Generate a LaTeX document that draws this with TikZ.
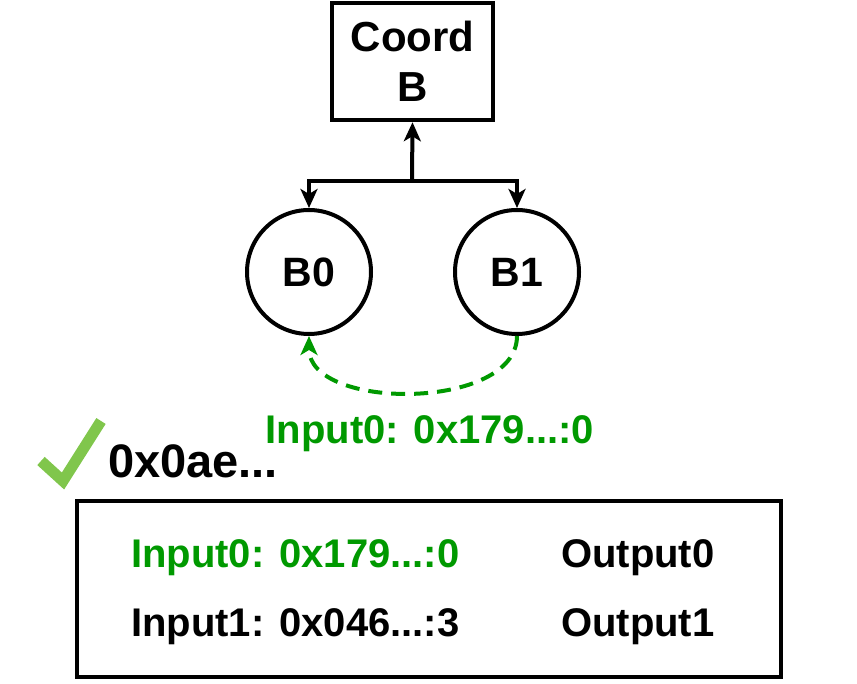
\documentclass[tikz,border=0pt]{standalone}
\usepackage{fontspec}
\setmainfont{Liberation Sans}
\usetikzlibrary{arrows.meta}
\definecolor{dkgreen}{HTML}{009900}
\definecolor{ckgreen}{HTML}{80C64C}
\begin{document}
\begin{tikzpicture}[x=1pt,y=-1pt,
  txt/.style={font=\fontsize{40}{50}\selectfont\bfseries, inner sep=0pt},
  box/.style={draw, line width=4.5pt, rectangle, inner sep=0pt},
  circ/.style={draw, line width=4pt, circle, minimum size=124pt, inner sep=0pt, font=\fontsize{41}{50}\selectfont\bfseries},
  arr/.style={line width=4pt, -{Stealth[length=19pt,width=17pt,inset=5pt]}},
  garr/.style={dkgreen, line width=4pt, dash pattern=on 14pt off 9pt, -{Stealth[length=19pt,width=17pt,inset=5pt]}}
]
\useasboundingbox (0,0) rectangle (857,684);
% Coord B
\node[box, minimum width=161pt, minimum height=117pt, align=center, font=\fontsize{42}{50}\selectfont\bfseries] (cb) at (412.5,61.5) {Coord\\B};
% circles
\node[circ] (b0) at (309,272) {B0};
\node[circ] (b1) at (517,272) {B1};
\coordinate (j) at (412,181);
\draw[arr] (j) -- (cb.south);
\draw[arr] (j) -| (b0.north);
\draw[arr] (j) -| (b1.north);
% green dashed
\draw[garr] (b1.south) .. controls (517,411) and (309,411) .. (b0.south);
\node[txt, text=dkgreen, anchor=base] (lbl) at (430,443) {Input0: 0x179...:0};
% check and tx
\draw[ckgreen, line width=11pt, miter limit=10] (41,461) -- (63,481) -- (101,421);
\node[txt, font=\fontsize{47}{50}\selectfont\bfseries, anchor=base west] (tx) at (108,478) {0x0ae...};
% bottom box
\node[box, minimum width=704pt, minimum height=176pt] (bb) at (429,589) {};
\node[txt, text=dkgreen, anchor=base west] (in0) at (131,567) {Input0: 0x179...:0};
\node[txt, anchor=base west] (in1) at (131,636) {Input1: 0x046...:3};
\node[txt, anchor=base west] (out0) at (561,567) {Output0};
\node[txt, anchor=base west] (out1) at (561,636) {Output1};
\end{tikzpicture}
\end{document}
